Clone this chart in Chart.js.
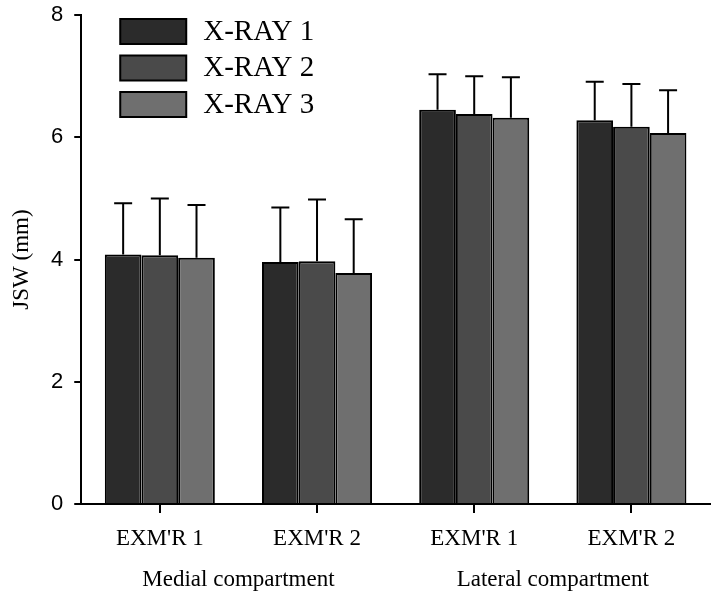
<!DOCTYPE html>
<html>
<head>
<meta charset="utf-8">
<script src="https://cdn.jsdelivr.net/npm/chart.js@4/dist/chart.umd.min.js"></script>
<style>
  body { margin: 0; background: #fff; }
  .chart-container { width: 718px; height: 595px; }
</style>
</head>
<body>
<div class="chart-container">
  <canvas id="myChart"></canvas>
</div>
<script>
// data
const categories = ["EXM'R 1", "EXM'R 2", "EXM'R 1", "EXM'R 2"];
const groupLabels = ['Medial compartment', 'Lateral compartment'];
const seriesNames = ['X-RAY 1', 'X-RAY 2', 'X-RAY 3'];
const xray1 = [4.08, 3.96, 6.45, 6.28];
const xray2 = [4.07, 3.97, 6.38, 6.17];
const xray3 = [4.03, 3.78, 6.32, 6.07];
const xray1Sd = [0.84, 0.89, 0.58, 0.63];
const xray2Sd = [0.93, 1.01, 0.62, 0.70];
const xray3Sd = [0.86, 0.88, 0.66, 0.70];
const yTicks = [0, 2, 4, 6, 8];

const barColors = ['#2b2b2b', '#4a4a4a', '#6f6f6f'];
const serif = "'Liberation Serif', 'Times New Roman', serif";
const sans = "'Liberation Sans', Arial, sans-serif";

// error bars (upper only) on top of each bar
const errorBars = {
    id: 'errorBars',
    afterDatasetsDraw(chart) {
        const ctx = chart.ctx;
        const y = chart.scales.y;
        ctx.save();
        ctx.strokeStyle = '#000';
        ctx.lineWidth = 2;
        chart.data.datasets.forEach((ds, i) => {
            chart.getDatasetMeta(i).data.forEach((bar, j) => {
                const top = y.getPixelForValue(ds.data[j] + ds.sd[j]);
                ctx.beginPath();
                ctx.moveTo(bar.x, bar.y);
                ctx.lineTo(bar.x, top);
                ctx.moveTo(bar.x - 9, top);
                ctx.lineTo(bar.x + 9, top);
                ctx.stroke();
            });
        });
        ctx.restore();
    }
};

// legend drawn inside the plot, like the original
const innerLegend = {
    id: 'innerLegend',
    afterDraw(chart) {
        const ctx = chart.ctx;
        const area = chart.chartArea;
        ctx.save();
        chart.data.datasets.forEach((ds, i) => {
            const bx = area.left + 39;
            const by = area.top + 4 + i * 36.5;
            ctx.fillStyle = ds.backgroundColor;
            ctx.fillRect(bx, by, 66, 25);
            ctx.strokeStyle = '#000';
            ctx.lineWidth = 2;
            ctx.strokeRect(bx, by, 66, 25);
            ctx.fillStyle = '#000';
            ctx.font = '29px ' + serif;
            ctx.textBaseline = 'middle';
            ctx.fillText(ds.label, bx + 83, by + 13);
        });
        ctx.restore();
    }
};

// second row of x labels: compartment names
const groupAxis = {
    id: 'groupAxis',
    afterDraw(chart) {
        const ctx = chart.ctx;
        const x = chart.scales.x;
        ctx.save();
        ctx.fillStyle = '#000';
        ctx.font = '23px ' + serif;
        ctx.textAlign = 'center';
        ctx.textBaseline = 'middle';
        groupLabels.forEach((label, g) => {
            const cx = (x.getPixelForValue(g * 2) + x.getPixelForValue(g * 2 + 1)) / 2;
            ctx.fillText(label, cx, 580);
        });
        ctx.restore();
    }
};

const seriesValues = [xray1, xray2, xray3];
const seriesSd = [xray1Sd, xray2Sd, xray3Sd];

const chartData = {
    labels: categories,
    datasets: seriesNames.map((name, i) => ({
        label: name,
        data: seriesValues[i],
        sd: seriesSd[i],
        backgroundColor: barColors[i],
        borderColor: '#000',
        borderWidth: 2,
        borderSkipped: 'bottom',
        categoryPercentage: 0.7,
        barPercentage: 1.0
    }))
};

const chartOptions = {
    responsive: true,
    maintainAspectRatio: false,
    animation: false,
    layout: { padding: { top: 0, right: 8, bottom: 31, left: 10 } },
    plugins: {
        legend: { display: false },
        tooltip: { enabled: false }
    },
    scales: {
        x: {
            grid: {
                display: true,
                offset: false,
                drawOnChartArea: false,
                drawTicks: true,
                tickLength: 9,
                color: '#000',
                lineWidth: 2
            },
            border: { color: '#000', width: 2 },
            ticks: {
                color: '#000',
                font: { family: serif, size: 23, lineHeight: 1.0 },
                padding: 14,
                maxRotation: 0
            }
        },
        y: {
            min: 0,
            max: 8,
            afterBuildTicks(axis) {
                axis.ticks = yTicks.map(v => ({ value: v }));
            },
            afterFit(axis) {
                axis.paddingTop = 15;
            },
            grid: {
                display: true,
                drawOnChartArea: false,
                drawTicks: true,
                tickLength: 7,
                color: '#000',
                lineWidth: 2
            },
            border: { color: '#000', width: 2 },
            ticks: {
                color: '#000',
                font: { family: sans, size: 22, lineHeight: 1.0 },
                padding: 11
            },
            title: {
                display: true,
                text: 'JSW (mm)',
                color: '#000',
                font: { family: serif, size: 23, lineHeight: 1.0 },
                padding: { top: 0, bottom: 7 }
            }
        }
    }
};

const ctx = document.getElementById('myChart').getContext('2d');
new Chart(ctx, {
    type: 'bar',
    data: chartData,
    options: chartOptions,
    plugins: [errorBars, innerLegend, groupAxis]
});
</script>
</body>
</html>
